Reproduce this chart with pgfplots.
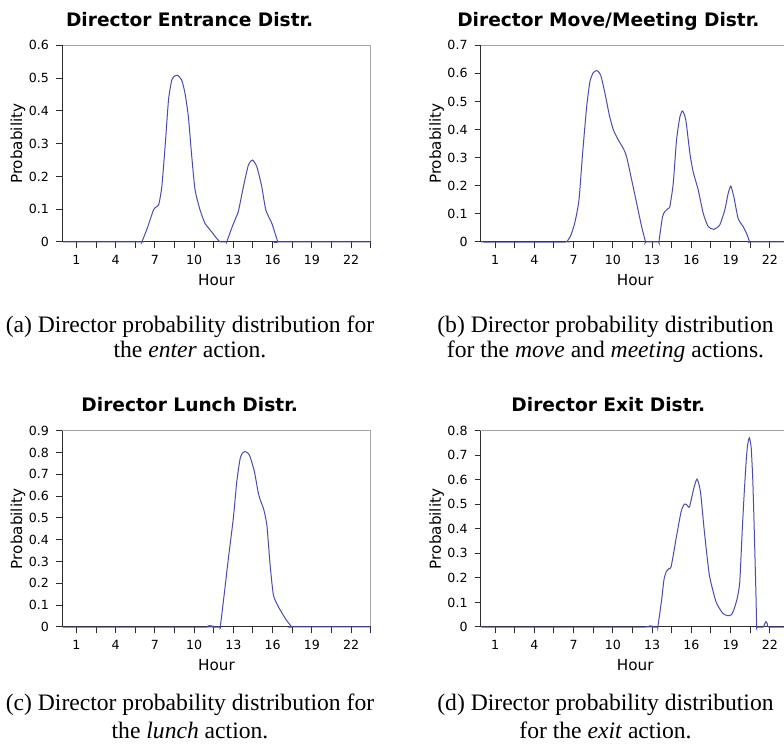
\documentclass[border=0pt]{standalone}
\usepackage{fontspec}
\setmainfont{DejaVu Sans}
\newfontfamily\capfont{Liberation Serif}
\usepackage{pgfplots}
\pgfplotsset{compat=1.18}

\definecolor{curve}{RGB}{74,74,178}
\definecolor{frameg}{RGB}{165,165,165}
\definecolor{framed}{RGB}{45,45,45}

\pgfplotsset{
 dcurve/.style={color=curve, line width=0.5pt, mark=none, smooth, tension=0.35},
 dirstyle/.style={
  scale only axis, width=154.2pt, anchor=south west,
  xmin=-0.08, xmax=23.5, ymin=0, clip=false,
  xtick={1,4,...,22}, minor xtick={2.5,5.5,...,23.5},
  tick align=outside, xtick pos=left, ytick pos=left,
  major tick length=3.2pt, minor tick length=3.2pt,
  every tick/.style={framed, line width=0.5pt},
  minor tick style={framed, line width=0.5pt},
  axis line style={frameg, line width=0.5pt},
  ticklabel style={font=\fontsize{6.3}{7}\selectfont},
  /pgf/number format/assume math mode=true,
  yticklabel style={/pgf/number format/fixed},
  xlabel={Hour}, ylabel={Probability},
  label style={font=\fontsize{7.6}{9}\selectfont},
  xlabel style={at={(axis description cs:0.5,-0.222)}, anchor=base},
  ylabel style={at={(axis description cs:-0.1437,0.5)}, anchor=center},
  every axis title/.style={font=\fontsize{9.3}{11}\selectfont\bfseries, at={(axis description cs:0.413,1.098)}, anchor=base},
 }
}
\newcommand{\frameLB}{\draw[framed, line width=0.5pt] (rel axis cs:0,1) -- (rel axis cs:0,0) -- (rel axis cs:1,0);}

\begin{document}
\begin{tikzpicture}
\path[use as bounding box] (0pt,0pt) rectangle (392pt,375.5pt);
\clip (0pt,0pt) rectangle (392pt,375.5pt);

% (a) Entrance
\begin{axis}[dirstyle, at={(31.15pt,254.5pt)}, height=98.35pt, ymax=0.6,
  ytick={0,0.1,0.2,0.3,0.4,0.5,0.6}, title={Director Entrance Distr.}]
\frameLB
\addplot[dcurve] coordinates {
(-0.08,0) (5.9,0) (5.98,0) (6.0,0) (6.4,0.04) (6.89,0.0976) (7.1,0.107) (7.3,0.115)
(7.53,0.169) (7.78,0.291) (8.04,0.433) (8.29,0.494) (8.5,0.506) (8.75,0.508)
(9.05,0.494) (9.3,0.454) (9.56,0.382) (9.82,0.26) (10.07,0.159) (10.45,0.098)
(10.83,0.057) (11.34,0.031) (11.7,0.012) (11.98,0) (12.0,0) (12.47,0) (12.49,0) (12.87,0.042)
(13.2,0.075) (13.38,0.093) (13.77,0.169) (14.15,0.235) (14.46,0.25) (14.79,0.23)
(15.17,0.169) (15.48,0.098) (15.94,0.057) (16.2,0.025) (16.4,0) (16.42,0) (23.5,0)
};
\end{axis}

% (b) Move/Meeting
\begin{axis}[dirstyle, at={(240.5pt,254.5pt)}, height=98.35pt, ymax=0.7,
  ytick={0,0.1,0.2,0.3,0.4,0.5,0.6,0.7}, title={Director Move/Meeting Distr.}]
\frameLB
\addplot[dcurve] coordinates {
(-0.08,0) (6.4,0) (6.52,0.003) (6.8,0.025) (7.11,0.072) (7.41,0.149) (7.69,0.316)
(8.0,0.482) (8.25,0.571) (8.51,0.603) (8.79,0.61) (9.07,0.594) (9.4,0.529)
(9.73,0.452) (10.04,0.399) (10.42,0.363) (10.8,0.333) (11.05,0.304) (11.44,0.221)
(11.82,0.138) (12.2,0.055) (12.5,0) (12.52,0) (13.5,0) (13.52,0) (13.8,0.09) (13.98,0.108) (14.2,0.118)
(14.36,0.126) (14.62,0.209) (14.87,0.363) (15.13,0.446) (15.33,0.466) (15.58,0.434)
(15.89,0.316) (16.14,0.25) (16.53,0.185) (16.91,0.102) (17.29,0.055) (17.72,0.045)
(18.18,0.061) (18.56,0.114) (18.82,0.173) (19.02,0.199) (19.25,0.161) (19.58,0.084)
(19.96,0.055) (20.22,0.031) (20.47,0) (20.49,0) (23.5,0)
};
\end{axis}

% (c) Lunch
\begin{axis}[dirstyle, at={(31.15pt,62pt)}, height=98.15pt, ymax=0.9,
  ytick={0,0.1,0.2,0.3,0.4,0.5,0.6,0.7,0.8,0.9}, title={Director Lunch Distr.}]
\frameLB
\addplot[dcurve] coordinates {
(-0.08,0) (11.0,0) (11.2,0.006) (11.4,0) (11.98,0) (12.0,0) (12.3,0.15) (12.62,0.315)
(13.0,0.5) (13.26,0.666) (13.52,0.773) (13.7,0.798) (13.9,0.804) (14.1,0.798)
(14.28,0.781) (14.61,0.712) (14.91,0.613) (15.1,0.575) (15.3,0.544) (15.56,0.468)
(15.81,0.284) (16.06,0.147) (16.44,0.093) (16.96,0.04) (17.2,0.02) (17.47,0) (17.49,0) (23.5,0)
};
\end{axis}

% (d) Exit
\begin{axis}[dirstyle, at={(240.5pt,62pt)}, height=98.15pt, ymax=0.8,
  ytick={0,0.1,0.2,0.3,0.4,0.5,0.6,0.7,0.8}, title={Director Exit Distr.}]
\frameLB
\addplot[dcurve] coordinates {
(-0.08,0) (12.5,0) (12.78,0.005) (13.05,0) (13.42,0) (13.44,0) (13.73,0.11) (13.9,0.19)
(14.08,0.225) (14.3,0.238) (14.46,0.246) (14.84,0.361) (15.22,0.47) (15.47,0.501)
(15.65,0.498) (15.86,0.49) (16.19,0.565) (16.44,0.603) (16.7,0.551) (17.0,0.388)
(17.38,0.212) (17.89,0.103) (18.4,0.056) (18.79,0.046) (19.07,0.05) (19.29,0.076)
(19.5,0.115) (19.7,0.18) (19.9,0.40) (20.05,0.55) (20.2,0.68) (20.3,0.74)
(20.44,0.771) (20.58,0.73) (20.7,0.6) (20.8,0.42) (20.93,0.16) (21.0,0) (21.02,0)
(21.5,0) (21.6,0.012) (21.71,0.022) (21.82,0.012) (21.92,0) (23.5,0)
};
\end{axis}

% captions
\begin{scope}[every node/.style={anchor=base, inner sep=0pt, font=\capfont\fontsize{11.8}{14}\selectfont}]
\node at (95pt,209pt) {(a) Director probability distribution for};
\node at (95pt,196.5pt) {the \textit{enter} action.};
\node at (302.75pt,209pt) {(b) Director probability distribution};
\node at (302.75pt,196.5pt) {for the \textit{move} and \textit{meeting} actions.};
\node at (95pt,20pt) {(c) Director probability distribution for};
\node at (95pt,6pt) {the \textit{lunch} action.};
\node at (302.75pt,20pt) {(d) Director probability distribution};
\node at (302.75pt,6pt) {for the \textit{exit} action.};
\end{scope}
\end{tikzpicture}
\end{document}
